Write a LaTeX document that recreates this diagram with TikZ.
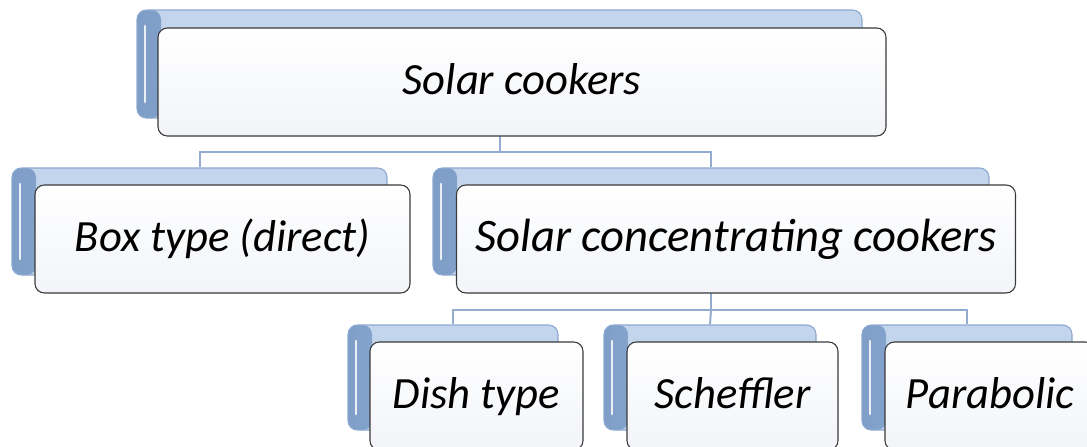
\documentclass[tikz,border=0pt]{standalone}
\usepackage{fontspec}
\setmainfont{Carlito}
\usetikzlibrary{backgrounds}
\definecolor{conn}{HTML}{93ABCE}
\definecolor{bluefill}{HTML}{C3D5EC}
\definecolor{blueedge}{HTML}{8DA9CF}
\definecolor{bluedark}{HTML}{7E9EC8}
\definecolor{bluemid}{HTML}{B5CBE7}
\definecolor{frontedge}{HTML}{3A3A3A}
\definecolor{frontfill}{HTML}{F2F4F8}
\begin{document}
\begin{tikzpicture}[x=0.75pt,y=-0.75pt,
  backbox/.style 2 args={draw=blueedge, line width=0.8pt, fill=bluefill,
    rounded corners=7pt, inner sep=0pt,
    minimum width=#1*0.75pt, minimum height=#2*0.75pt,
    path picture={
      \shade[left color=bluedark, right color=bluemid]
        (path picture bounding box.north west) rectangle
        ([xshift=18pt]path picture bounding box.south west);
      \draw[white, opacity=0.85, line width=2pt, line cap=round]
        ([xshift=6pt,yshift=-12pt]path picture bounding box.north west) --
        ([xshift=6pt,yshift=12pt]path picture bounding box.south west);
    }},
  frontbox/.style 2 args={draw=frontedge, line width=0.8pt,
    top color=white, bottom color=frontfill,
    rounded corners=7pt, inner sep=0pt,
    minimum width=#1*0.75pt, minimum height=#2*0.75pt,
    text height=18pt, text depth=0pt,
    font=\fontsize{33.5}{40}\selectfont\itshape},
  bigtext/.style={font=\fontsize{35}{42}\selectfont\itshape},
  connector/.style={draw=conn, line width=1.5pt}
]
\useasboundingbox (0,0) rectangle (1087,446);
\clip (0,0) rectangle (1087,446);

% level 1
\node[backbox={725}{108}] (topb) at (499.5,64) {};
\node[frontbox={728}{108}] (top) at (522,82) {Solar cookers};

% level 2
\node[backbox={375}{107}] (boxb) at (199.5,221.5) {};
\node[frontbox={375}{108}] (box) at (222.5,239) {Box type (direct)};
\node[backbox={556}{107}] (concb) at (711,221.5) {};
\node[frontbox={559}{108}, bigtext] (conc) at (736,239) {Solar concentrating cookers};

% level 3
\node[backbox={210}{105}] (dishb) at (453,377.5) {};
\node[frontbox={213}{108}] (dish) at (476.5,396) {Dish type};
\node[backbox={212}{105}] (schb) at (710,377.5) {};
\node[frontbox={211}{108}] (sch) at (732.5,396) {Scheffler};
\node[backbox={210}{105}] (parb) at (967,377.5) {};
\node[frontbox={210}{108}] (par) at (990,396) {Parabolic};

\begin{scope}[on background layer]
  \coordinate (j1) at (topb.center |- 0,152);
  \coordinate (j2) at (concb.center |- 0,310);
  \draw[connector] (topb.center) -- (j1);
  \draw[connector] (j1) -| (boxb.north);
  \draw[connector] (j1) -| (concb.north);
  \draw[connector] (concb.center) -- (j2);
  \draw[connector] (j2) -| (dishb.north);
  \draw[connector] (j2) -| (parb.north);
  \draw[connector] (j2) -- (schb.north);
\end{scope}
\end{tikzpicture}
\end{document}
